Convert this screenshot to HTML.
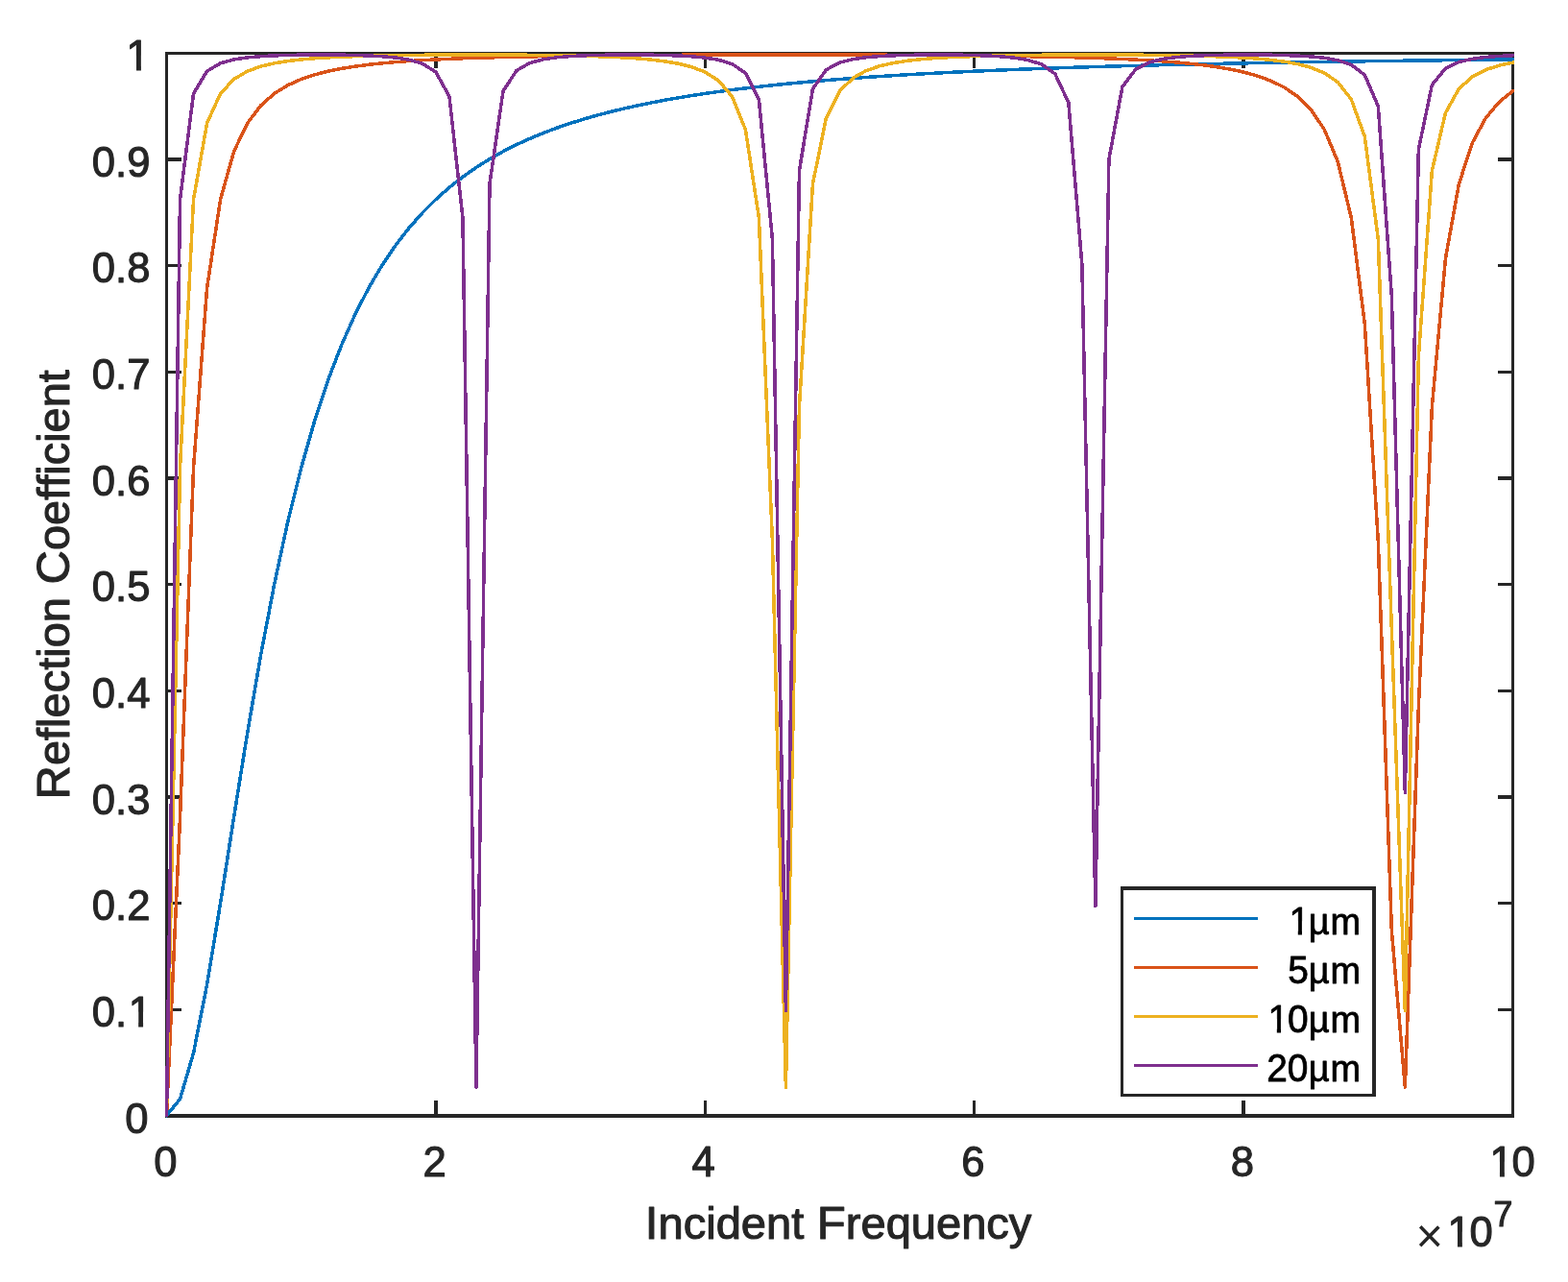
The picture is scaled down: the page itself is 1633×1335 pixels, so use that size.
<!DOCTYPE html>
<html lang="en"><head><meta charset="utf-8"><title>Reflection Coefficient vs Incident Frequency</title>
<style>html,body{margin:0;padding:0;background:#fff;overflow:hidden}svg{display:block}text{font-family:"Liberation Sans",Arial,Helvetica,sans-serif;font-kerning:none}</style>
</head><body>
<svg width="1633" height="1335" viewBox="0 0 1633 1335">
<rect x="0" y="0" width="1633" height="1335" fill="#fff"/>
<defs><clipPath id="c"><rect x="172" y="54" width="1405" height="1110"/></clipPath></defs>
<g fill="#262626" shape-rendering="crispEdges">
<rect x="172" y="54" width="1405" height="3"/>
<rect x="172" y="1160" width="1405" height="4"/>
<rect x="172" y="54" width="3" height="1110"/>
<rect x="1574" y="54" width="3" height="1110"/>
<rect x="452" y="1146" width="4" height="16"/>
<rect x="452" y="55" width="4" height="16"/>
<rect x="733" y="1146" width="3" height="16"/>
<rect x="733" y="55" width="3" height="16"/>
<rect x="1013" y="1146" width="3" height="16"/>
<rect x="1013" y="55" width="3" height="16"/>
<rect x="1293" y="1146" width="4" height="16"/>
<rect x="1293" y="55" width="4" height="16"/>
<rect x="173" y="1050" width="16" height="3"/>
<rect x="1560" y="1050" width="16" height="3"/>
<rect x="173" y="939" width="16" height="3"/>
<rect x="1560" y="939" width="16" height="3"/>
<rect x="173" y="828" width="16" height="4"/>
<rect x="1560" y="828" width="16" height="4"/>
<rect x="173" y="718" width="16" height="3"/>
<rect x="1560" y="718" width="16" height="3"/>
<rect x="173" y="607" width="16" height="3"/>
<rect x="1560" y="607" width="16" height="3"/>
<rect x="173" y="496" width="16" height="4"/>
<rect x="1560" y="496" width="16" height="4"/>
<rect x="173" y="386" width="16" height="3"/>
<rect x="1560" y="386" width="16" height="3"/>
<rect x="173" y="275" width="16" height="3"/>
<rect x="1560" y="275" width="16" height="3"/>
<rect x="173" y="164" width="16" height="4"/>
<rect x="1560" y="164" width="16" height="4"/>
</g>
<g clip-path="url(#c)" fill="none" stroke-width="3.5" stroke-linejoin="round" stroke-linecap="square" shape-rendering="crispEdges">
<polyline stroke="#0072BD" points="173.50,1161.55 187.52,1144.54 201.54,1096.52 215.56,1025.25 229.58,940.42 243.60,850.94 257.62,763.43 271.64,681.97 285.66,608.52 299.68,543.63 313.70,487.03 327.72,437.99 341.74,395.63 355.76,359.08 369.78,327.49 383.80,300.13 397.82,276.37 411.84,255.67 425.86,237.55 439.88,221.65 453.90,207.63 467.92,195.22 481.94,184.21 495.96,174.39 509.98,165.61 524.00,157.73 538.02,150.64 552.04,144.24 566.06,138.44 580.08,133.17 594.10,128.38 608.12,124.00 622.14,120.00 636.16,116.32 650.18,112.95 664.20,109.84 678.22,106.96 692.24,104.31 706.26,101.85 720.28,99.57 734.30,97.44 748.32,95.47 762.34,93.62 776.36,91.90 790.38,90.29 804.40,88.78 818.42,87.36 832.44,86.03 846.46,84.78 860.48,83.60 874.50,82.49 888.52,81.45 902.54,80.46 916.56,79.52 930.58,78.64 944.60,77.80 958.62,77.00 972.64,76.25 986.66,75.53 1000.68,74.85 1014.70,74.20 1028.72,73.58 1042.74,73.00 1056.76,72.44 1070.78,71.90 1084.80,71.39 1098.82,70.90 1112.84,70.43 1126.86,69.99 1140.88,69.56 1154.90,69.15 1168.92,68.75 1182.94,68.38 1196.96,68.02 1210.98,67.67 1225.00,67.34 1239.02,67.01 1253.04,66.71 1267.06,66.41 1281.08,66.12 1295.10,65.85 1309.12,65.58 1323.14,65.33 1337.16,65.08 1351.18,64.85 1365.20,64.62 1379.22,64.40 1393.24,64.18 1407.26,63.98 1421.28,63.78 1435.30,63.58 1449.32,63.40 1463.34,63.22 1477.36,63.04 1491.38,62.88 1505.40,62.71 1519.42,62.55 1533.44,62.40 1547.46,62.25 1561.48,62.11 1575.50,61.97"/>
<polyline stroke="#D95319" points="173.50,1161.55 187.52,850.94 201.54,487.03 215.56,300.13 229.58,207.63 243.60,157.73 257.62,128.38 271.64,109.84 285.66,97.44 299.68,88.78 313.70,82.49 327.72,77.80 341.74,74.20 355.76,71.39 369.78,69.15 383.80,67.34 397.82,65.85 411.84,64.62 425.86,63.58 439.88,62.71 453.90,61.97 467.92,61.33 481.94,60.78 495.96,60.30 509.98,59.88 524.00,59.51 538.02,59.19 552.04,58.90 566.06,58.65 580.08,58.43 594.10,58.23 608.12,58.06 622.14,57.90 636.16,57.76 650.18,57.64 664.20,57.53 678.22,57.43 692.24,57.35 706.26,57.28 720.28,57.21 734.30,57.16 748.32,57.12 762.34,57.08 776.36,57.06 790.38,57.04 804.40,57.03 818.42,57.02 832.44,57.03 846.46,57.04 860.48,57.06 874.50,57.09 888.52,57.13 902.54,57.17 916.56,57.23 930.58,57.29 944.60,57.37 958.62,57.46 972.64,57.56 986.66,57.67 1000.68,57.80 1014.70,57.94 1028.72,58.10 1042.74,58.28 1056.76,58.49 1070.78,58.72 1084.80,58.98 1098.82,59.27 1112.84,59.60 1126.86,59.98 1140.88,60.42 1154.90,60.92 1168.92,61.49 1182.94,62.15 1196.96,62.93 1210.98,63.84 1225.00,64.92 1239.02,66.22 1253.04,67.78 1267.06,69.69 1281.08,72.07 1295.10,75.07 1309.12,78.92 1323.14,83.97 1337.16,90.79 1351.18,100.28 1365.20,114.00 1379.22,134.81 1393.24,168.33 1407.26,226.55 1421.28,337.16 1435.30,563.60 1449.32,968.63 1463.34,1132.17 1477.36,736.41 1491.38,423.66 1505.40,269.40 1519.42,191.53 1533.44,148.51 1547.46,122.67 1561.48,106.09 1575.50,94.86"/>
<polyline stroke="#EDB120" points="173.50,1161.55 187.52,487.03 201.54,207.63 215.56,128.38 229.58,97.44 243.60,82.49 257.62,74.20 271.64,69.15 285.66,65.85 299.68,63.58 313.70,61.97 327.72,60.78 341.74,59.88 355.76,59.19 369.78,58.65 383.80,58.23 397.82,57.90 411.84,57.64 425.86,57.43 439.88,57.28 453.90,57.16 467.92,57.08 481.94,57.04 495.96,57.02 509.98,57.04 524.00,57.09 538.02,57.17 552.04,57.29 566.06,57.46 580.08,57.67 594.10,57.94 608.12,58.28 622.14,58.72 636.16,59.27 650.18,59.98 664.20,60.92 678.22,62.15 692.24,63.84 706.26,66.22 720.28,69.69 734.30,75.07 748.32,83.97 762.34,100.28 776.36,134.81 790.38,226.55 804.40,563.60 818.42,1132.17 832.44,423.66 846.46,191.53 860.48,122.67 874.50,94.86 888.52,81.12 902.54,73.39 916.56,68.63 930.58,65.50 944.60,63.34 958.62,61.79 972.64,60.64 986.66,59.78 1000.68,59.11 1014.70,58.59 1028.72,58.18 1042.74,57.86 1056.76,57.61 1070.78,57.41 1084.80,57.26 1098.82,57.15 1112.84,57.07 1126.86,57.03 1140.88,57.02 1154.90,57.05 1168.92,57.10 1182.94,57.19 1196.96,57.31 1210.98,57.48 1225.00,57.70 1239.02,57.98 1253.04,58.33 1267.06,58.78 1281.08,59.36 1295.10,60.09 1309.12,61.06 1323.14,62.35 1337.16,64.11 1351.18,66.60 1365.20,70.27 1379.22,75.99 1393.24,85.58 1407.26,103.41 1421.28,142.11 1435.30,248.94 1449.32,654.85 1463.34,1052.68 1477.36,371.48 1491.38,177.76 1505.40,117.59 1519.42,92.50 1533.44,79.85 1547.46,72.63 1561.48,68.14 1575.50,65.17"/>
<polyline stroke="#7E2F8E" points="173.50,1161.55 187.52,207.63 201.54,97.44 215.56,74.20 229.58,65.85 243.60,61.97 257.62,59.88 271.64,58.65 285.66,57.90 299.68,57.43 313.70,57.16 327.72,57.04 341.74,57.04 355.76,57.17 369.78,57.46 383.80,57.94 397.82,58.72 411.84,59.98 425.86,62.15 439.88,66.22 453.90,75.07 467.92,100.28 481.94,226.55 495.96,1132.17 509.98,191.53 524.00,94.86 538.02,73.39 552.04,65.50 566.06,61.79 580.08,59.78 594.10,58.59 608.12,57.86 622.14,57.41 636.16,57.15 650.18,57.03 664.20,57.05 678.22,57.19 692.24,57.48 706.26,57.98 720.28,58.78 734.30,60.09 748.32,62.35 762.34,66.60 776.36,75.99 790.38,103.41 804.40,248.94 818.42,1052.68 832.44,177.76 846.46,92.50 860.48,72.63 874.50,65.17 888.52,61.62 902.54,59.68 916.56,58.53 930.58,57.82 944.60,57.39 958.62,57.14 972.64,57.03 986.66,57.05 1000.68,57.20 1014.70,57.51 1028.72,58.02 1042.74,58.85 1056.76,60.21 1070.78,62.55 1084.80,67.00 1098.82,76.98 1112.84,106.87 1126.86,275.62 1140.88,943.42 1154.90,165.89 1168.92,90.34 1182.94,71.92 1196.96,64.85 1210.98,61.45 1225.00,59.58 1239.02,58.47 1253.04,57.79 1267.06,57.37 1281.08,57.13 1295.10,57.03 1309.12,57.06 1323.14,57.22 1337.16,57.53 1351.18,58.06 1365.20,58.92 1379.22,60.32 1393.24,62.76 1407.26,67.43 1421.28,78.04 1435.30,110.71 1449.32,307.62 1463.34,825.31 1477.36,155.61 1491.38,88.36 1505.40,71.25 1519.42,64.55 1533.44,61.29 1547.46,59.49 1561.48,58.42 1575.50,57.75"/>
</g>
<g shape-rendering="crispEdges">
<rect x="1167" y="923" width="266" height="219" fill="#262626"/>
<rect x="1170" y="927" width="259" height="212" fill="#fff"/>
<rect x="1181" y="955" width="129" height="3" fill="#0072BD"/>
<rect x="1181" y="1006" width="129" height="3" fill="#D95319"/>
<rect x="1181" y="1057" width="129" height="3" fill="#EDB120"/>
<rect x="1181" y="1108" width="129" height="3" fill="#7E2F8E"/>
</g>
<text transform="translate(1342.39,973.00) scale(0.9600,1)" font-size="40.50" fill="#000" stroke="#000" stroke-width="0.8" stroke-linejoin="round"><tspan x="0.00" y="0.00">1</tspan><tspan x="21.32" y="0.00" font-size="39.50">µ</tspan><tspan x="44.92" y="0.00" font-size="39.50">m</tspan></text>
<text transform="translate(1341.23,1024.00) scale(0.9600,1)" font-size="40.50" fill="#000" stroke="#000" stroke-width="0.8" stroke-linejoin="round"><tspan x="0.00" y="0.00">5</tspan><tspan x="22.53" y="0.00" font-size="39.50">µ</tspan><tspan x="46.13" y="0.00" font-size="39.50">m</tspan></text>
<text transform="translate(1320.42,1075.00) scale(0.9600,1)" font-size="40.50" fill="#000" stroke="#000" stroke-width="0.8" stroke-linejoin="round"><tspan x="0.00" y="0.00">1</tspan><tspan x="21.32" y="0.00">0</tspan><tspan x="44.21" y="0.00" font-size="39.50">µ</tspan><tspan x="67.81" y="0.00" font-size="39.50">m</tspan></text>
<text transform="translate(1319.19,1126.00) scale(0.9600,1)" font-size="40.50" fill="#000" stroke="#000" stroke-width="0.8" stroke-linejoin="round"><tspan x="0.00" y="0.00">2</tspan><tspan x="22.60" y="0.00">0</tspan><tspan x="45.49" y="0.00" font-size="39.50">µ</tspan><tspan x="69.09" y="0.00" font-size="39.50">m</tspan></text>
<text transform="translate(130.31,1180.00) scale(0.9699,1)" font-size="45.00" fill="#262626" stroke="#262626" stroke-width="1.1" stroke-linejoin="round">0</text>
<text transform="translate(95.75,1069.00) scale(0.9699,1)" font-size="45.00" fill="#262626" stroke="#262626" stroke-width="1.1" stroke-linejoin="round"><tspan x="0.00" y="0.00">0</tspan><tspan x="25.03" y="0.00">.</tspan><tspan x="39.15" y="0.00">1</tspan></text>
<text transform="translate(95.75,958.00) scale(0.9699,1)" font-size="45.00" fill="#262626" stroke="#262626" stroke-width="1.1" stroke-linejoin="round">0.2</text>
<text transform="translate(95.75,848.00) scale(0.9699,1)" font-size="45.00" fill="#262626" stroke="#262626" stroke-width="1.1" stroke-linejoin="round">0.3</text>
<text transform="translate(95.75,737.00) scale(0.9699,1)" font-size="45.00" fill="#262626" stroke="#262626" stroke-width="1.1" stroke-linejoin="round">0.4</text>
<text transform="translate(95.75,626.00) scale(0.9699,1)" font-size="45.00" fill="#262626" stroke="#262626" stroke-width="1.1" stroke-linejoin="round">0.5</text>
<text transform="translate(95.75,516.00) scale(0.9699,1)" font-size="45.00" fill="#262626" stroke="#262626" stroke-width="1.1" stroke-linejoin="round">0.6</text>
<text transform="translate(95.75,405.00) scale(0.9699,1)" font-size="45.00" fill="#262626" stroke="#262626" stroke-width="1.1" stroke-linejoin="round">0.7</text>
<text transform="translate(95.75,294.00) scale(0.9699,1)" font-size="45.00" fill="#262626" stroke="#262626" stroke-width="1.1" stroke-linejoin="round">0.8</text>
<text transform="translate(95.75,184.00) scale(0.9699,1)" font-size="45.00" fill="#262626" stroke="#262626" stroke-width="1.1" stroke-linejoin="round">0.9</text>
<text transform="translate(131.57,73.00) scale(0.9699,1)" font-size="45.00" fill="#262626" stroke="#262626" stroke-width="1.1" stroke-linejoin="round">1</text>
<text transform="translate(160.31,1225.00) scale(0.9699,1)" font-size="45.00" fill="#262626" stroke="#262626" stroke-width="1.1" stroke-linejoin="round">0</text>
<text transform="translate(440.41,1225.00) scale(0.9699,1)" font-size="45.00" fill="#262626" stroke="#262626" stroke-width="1.1" stroke-linejoin="round">2</text>
<text transform="translate(720.40,1225.00) scale(0.9699,1)" font-size="45.00" fill="#262626" stroke="#262626" stroke-width="1.1" stroke-linejoin="round">4</text>
<text transform="translate(1001.31,1225.00) scale(0.9699,1)" font-size="45.00" fill="#262626" stroke="#262626" stroke-width="1.1" stroke-linejoin="round">6</text>
<text transform="translate(1281.86,1225.00) scale(0.9699,1)" font-size="45.00" fill="#262626" stroke="#262626" stroke-width="1.1" stroke-linejoin="round">8</text>
<text transform="translate(1551.52,1225.00) scale(0.9699,1)" font-size="45.00" fill="#262626" stroke="#262626" stroke-width="1.1" stroke-linejoin="round"><tspan x="0.00" y="0.00">1</tspan><tspan x="23.66" y="0.00">0</tspan></text>
<text transform="translate(671.87,1290.00) scale(1.0015,1)" font-size="49.00" fill="#262626" stroke="#262626" stroke-width="1.1" stroke-linejoin="round">I<tspan font-size="47.00">ncident</tspan> F<tspan font-size="47.00">requency</tspan></text>
<text transform="translate(72.48,832.47) rotate(-90) scale(0.9998,1)" font-size="49.00" fill="#262626" stroke="#262626" stroke-width="1.1" stroke-linejoin="round">R<tspan font-size="47.00">eflection</tspan> C<tspan font-size="47.00">oefficient</tspan></text>
<text transform="translate(1474.61,1298.00) scale(0.9699,1)" font-size="45.00" fill="#262626" stroke="#262626" stroke-width="1.1" stroke-linejoin="round"><tspan x="0.00" y="5.54" font-size="50.42" stroke="none">×</tspan><tspan x="33.93" y="0.00">1</tspan><tspan x="57.54" y="0.00">0</tspan></text>
<text transform="translate(1555.47,1277.00) scale(0.9794,1)" font-size="36.50" fill="#262626" stroke="#262626" stroke-width="1.1" stroke-linejoin="round">7</text>
<g fill="#fff">
<rect x="1343.95" y="959.16" width="7.83" height="15.74"/>
<rect x="1355.98" y="959.16" width="7.53" height="15.74"/>
<rect x="1321.98" y="1061.16" width="7.83" height="15.74"/>
<rect x="1334.01" y="1061.16" width="7.53" height="15.74"/>
<rect x="135.49" y="1053.62" width="8.67" height="17.43"/>
<rect x="149.08" y="1053.62" width="8.33" height="17.43"/>
<rect x="133.34" y="57.62" width="8.67" height="17.43"/>
<rect x="146.93" y="57.62" width="8.33" height="17.43"/>
<rect x="1553.29" y="1209.62" width="8.67" height="17.43"/>
<rect x="1566.88" y="1209.62" width="8.33" height="17.43"/>
<rect x="1509.29" y="1282.62" width="8.67" height="17.43"/>
<rect x="1522.88" y="1282.62" width="8.33" height="17.43"/>
</g>
</svg>
</body></html>
